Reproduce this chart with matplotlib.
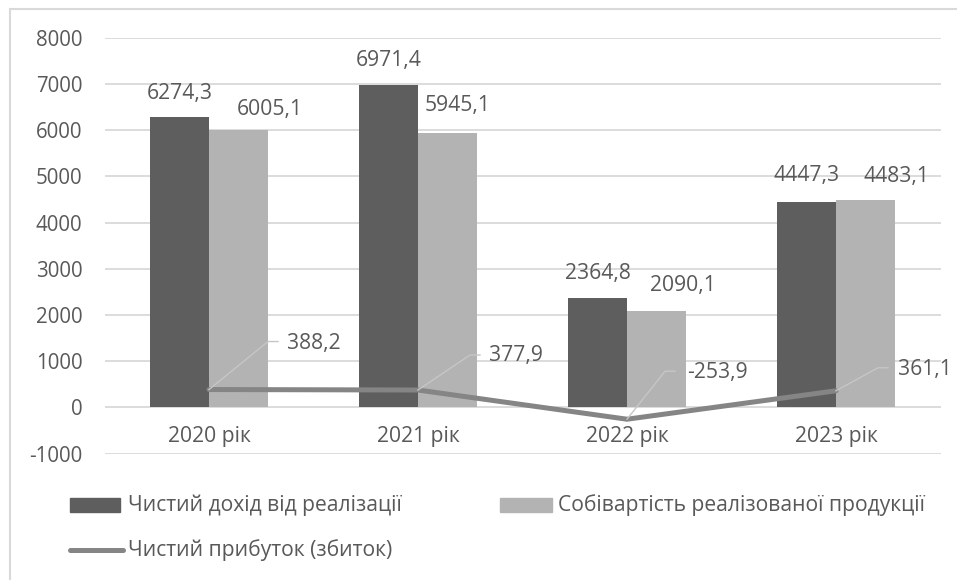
import matplotlib
matplotlib.use("Agg")
import matplotlib.pyplot as plt
from matplotlib.lines import Line2D
from matplotlib.patches import Rectangle

plt.rcParams['font.family'] = ['Open Sans', 'DejaVu Sans']

# Data
categories = ["2020 рік", "2021 рік", "2022 рік", "2023 рік"]
revenue = [6274.3, 6971.4, 2364.8, 4447.3]
cost = [6005.1, 5945.1, 2090.1, 4483.1]
profit = [388.2, 377.9, -253.9, 361.1]
y_ticks = [-1000, 0, 1000, 2000, 3000, 4000, 5000, 6000, 7000, 8000]
series_names = ["Чистий дохід від реалізації",
                "Собівартість реалізованої продукції",
                "Чистий прибуток (збиток)"]

# Styles
C_DARK = "#5e5e5e"
C_LIGHT = "#b3b3b3"
C_LINE = "#858585"
C_LEADER = "#c6c6c6"
C_GRID = "#d9d9d9"
C_TEXT = "#595959"
FS = 15.2
FS_TICK = 14.8
W, H, DPI = 957, 580, 100
# label offsets in pixels (dx, dy) relative to each bar's top centre
rev_label_off = [(0, 24), (0, 25), (0, 25), (0, 26)]
cost_label_off = [(31, 20), (10, 27), (26, 25), (31, 24)]
# leader-line geometry for profit labels (pixels: elbow dx, elbow dy, label dx, label dy)
leader_style = [(59, 48, 78, 46), (52, 35, 71, 35), (38, 48, 60, 47), (42, 23, 62, 21)]

fig = plt.figure(figsize=(W / DPI, H / DPI), dpi=DPI)
ax = fig.add_axes([104.5 / W, 1 - 453.7 / H, 836 / W, 416 / H])

x = list(range(len(categories)))
bw = 0.282
ax.bar([i - bw / 2 for i in x], revenue, width=bw, color=C_DARK, zorder=2)
ax.bar([i + bw / 2 for i in x], cost, width=bw, color=C_LIGHT, zorder=2)
ax.plot(x, profit, color=C_LINE, lw=3.6, zorder=3, solid_capstyle='round',
        solid_joinstyle='miter')

ax.set_xlim(-0.5, len(categories) - 0.5)
ax.set_ylim(y_ticks[0], y_ticks[-1])
ax.set_yticks(y_ticks)
ax.set_yticklabels([str(v) for v in y_ticks], fontsize=FS_TICK, color=C_TEXT)
ax.tick_params(axis='y', length=0, pad=16)
ax.set_xticks([])
for v in y_ticks:
    ax.axhline(v, color=C_GRID, lw=1.3, zorder=1)
for s in ax.spines.values():
    s.set_visible(False)

fmt = lambda v: f"{v:.1f}".replace(".", ",")

# bar value labels
for i in x:
    ax.annotate(fmt(revenue[i]), (i - bw / 2, revenue[i]), xytext=rev_label_off[i],
                textcoords='offset pixels', ha='center', va='center',
                fontsize=FS, color=C_TEXT)
    ax.annotate(fmt(cost[i]), (i + bw / 2, cost[i]), xytext=cost_label_off[i],
                textcoords='offset pixels', ha='center', va='center',
                fontsize=FS, color=C_TEXT)

# category labels under the zero line
for i, c in enumerate(categories):
    ax.annotate(c, (i, 0), xytext=(0, -29), textcoords='offset pixels',
                ha='center', va='center', fontsize=FS, color=C_TEXT)

# profit labels with leader lines
fig.canvas.draw()
for i, v in enumerate(profit):
    px, py = ax.transData.transform((i, v))
    ex, ey, lx, ly = leader_style[i]
    fig.add_artist(Line2D([px, px + ex, px + ex + 10], [py, py + ey, py + ey],
                          transform=None, color=C_LEADER, lw=1.0, zorder=4))
    fig.text(px + lx, py + ly, fmt(v), transform=None, ha='left', va='center',
             fontsize=FS, color=C_TEXT)

# legend
def ypx(y):
    return H - y

fig.add_artist(Rectangle((70, ypx(512)), 50, 14, transform=None, color=C_DARK))
fig.text(128, ypx(505), series_names[0], transform=None, va='center',
         fontsize=FS, color=C_TEXT)
fig.add_artist(Rectangle((500, ypx(512)), 52, 14, transform=None, color=C_LIGHT))
fig.text(558, ypx(505), series_names[1], transform=None, va='center',
         fontsize=FS, color=C_TEXT)
fig.add_artist(Line2D([70, 123], [ypx(550), ypx(550)], transform=None,
                      color=C_LINE, lw=3.6, solid_capstyle='round'))
fig.text(128, ypx(550), series_names[2], transform=None, va='center',
         fontsize=FS, color=C_TEXT)

# chart border
fig.add_artist(Line2D([10, 10], [0, ypx(8.5)], transform=None, color=C_GRID, lw=1.5))
fig.add_artist(Line2D([10, W], [ypx(8.5), ypx(8.5)], transform=None, color=C_GRID, lw=1.5))

fig.savefig("out.png", dpi=DPI)
